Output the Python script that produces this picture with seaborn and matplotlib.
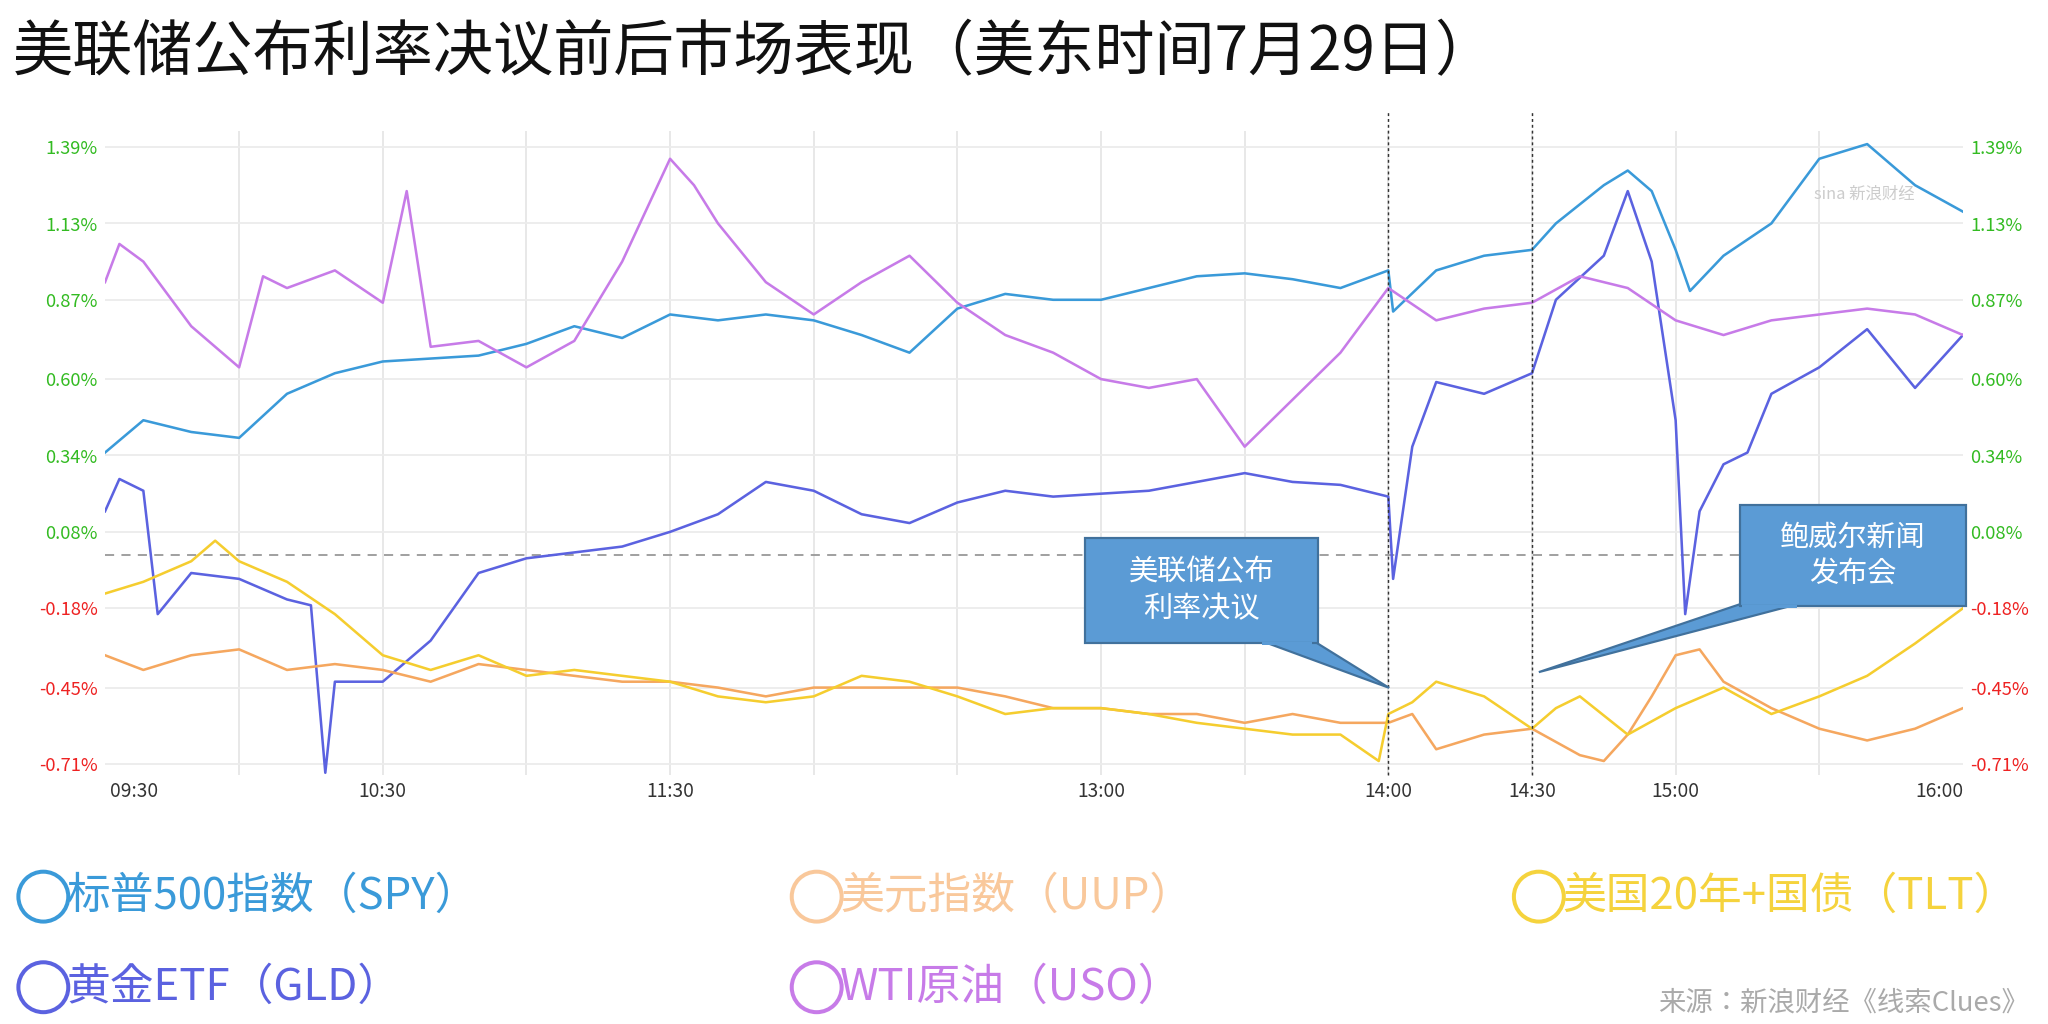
import matplotlib
matplotlib.use("Agg")
import matplotlib.pyplot as plt
import seaborn as sns
import pandas as pd
from matplotlib.patches import Polygon, Ellipse

plt.rcParams["font.family"] = ["Noto Sans CJK JP", "Noto Sans CJK SC", "DejaVu Sans"]

spy_t = ["09:32","09:40","09:50","10:00","10:10","10:20","10:30","10:40","10:50","11:00","11:10","11:20","11:30","11:40","11:50","12:00","12:10","12:20","12:30","12:40","12:50","13:00","13:10","13:20","13:30","13:40","13:50","14:00","14:01","14:10","14:20","14:30","14:35","14:45","14:50","14:55","15:00","15:03","15:10","15:20","15:30","15:40","15:50","16:00"]
spy_v = [0.35,0.46,0.42,0.40,0.55,0.62,0.66,0.67,0.68,0.72,0.78,0.74,0.82,0.80,0.82,0.80,0.75,0.69,0.84,0.89,0.87,0.87,0.91,0.95,0.96,0.94,0.91,0.97,0.83,0.97,1.02,1.04,1.13,1.26,1.31,1.24,1.04,0.90,1.02,1.13,1.35,1.40,1.26,1.17]

gld_t = ["09:32","09:35","09:40","09:43","09:50","10:00","10:10","10:15","10:18","10:20","10:30","10:40","10:50","11:00","11:10","11:20","11:30","11:40","11:50","12:00","12:10","12:20","12:30","12:40","12:50","13:00","13:10","13:20","13:30","13:40","13:50","14:00","14:01","14:05","14:10","14:20","14:30","14:35","14:45","14:50","14:55","15:00","15:02","15:05","15:10","15:15","15:20","15:30","15:40","15:50","16:00"]
gld_v = [0.15,0.26,0.22,-0.20,-0.06,-0.08,-0.15,-0.17,-0.74,-0.43,-0.43,-0.29,-0.06,-0.01,0.01,0.03,0.08,0.14,0.25,0.22,0.14,0.11,0.18,0.22,0.20,0.21,0.22,0.25,0.28,0.25,0.24,0.20,-0.08,0.37,0.59,0.55,0.62,0.87,1.02,1.24,1.00,0.46,-0.20,0.15,0.31,0.35,0.55,0.64,0.77,0.57,0.75]

uso_t = ["09:32","09:35","09:40","09:50","10:00","10:05","10:10","10:20","10:30","10:35","10:40","10:50","11:00","11:10","11:20","11:30","11:35","11:40","11:50","12:00","12:10","12:20","12:30","12:40","12:50","13:00","13:10","13:20","13:30","13:40","13:50","14:00","14:10","14:20","14:30","14:40","14:50","15:00","15:10","15:20","15:30","15:40","15:50","16:00"]
uso_v = [0.93,1.06,1.00,0.78,0.64,0.95,0.91,0.97,0.86,1.24,0.71,0.73,0.64,0.73,1.00,1.35,1.26,1.13,0.93,0.82,0.93,1.02,0.86,0.75,0.69,0.60,0.57,0.60,0.37,0.53,0.69,0.91,0.80,0.84,0.86,0.95,0.91,0.80,0.75,0.80,0.82,0.84,0.82,0.75]

uup_t = ["09:32","09:40","09:50","10:00","10:10","10:20","10:30","10:40","10:50","11:00","11:10","11:20","11:30","11:40","11:50","12:00","12:10","12:20","12:30","12:40","12:50","13:00","13:10","13:20","13:30","13:40","13:50","14:00","14:05","14:10","14:20","14:30","14:40","14:45","14:50","14:55","15:00","15:05","15:10","15:20","15:30","15:40","15:50","16:00"]
uup_v = [-0.34,-0.39,-0.34,-0.32,-0.39,-0.37,-0.39,-0.43,-0.37,-0.39,-0.41,-0.43,-0.43,-0.45,-0.48,-0.45,-0.45,-0.45,-0.45,-0.48,-0.52,-0.52,-0.54,-0.54,-0.57,-0.54,-0.57,-0.57,-0.54,-0.66,-0.61,-0.59,-0.68,-0.70,-0.61,-0.48,-0.34,-0.32,-0.43,-0.52,-0.59,-0.63,-0.59,-0.52]

tlt_t = ["09:32","09:40","09:50","09:55","10:00","10:10","10:20","10:30","10:40","10:50","11:00","11:10","11:20","11:30","11:40","11:50","12:00","12:10","12:20","12:30","12:40","12:50","13:00","13:10","13:20","13:30","13:40","13:50","13:58","14:00","14:05","14:10","14:20","14:30","14:35","14:40","14:50","15:00","15:10","15:20","15:30","15:40","15:50","16:00"]
tlt_v = [-0.13,-0.09,-0.02,0.05,-0.02,-0.09,-0.20,-0.34,-0.39,-0.34,-0.41,-0.39,-0.41,-0.43,-0.48,-0.50,-0.48,-0.41,-0.43,-0.48,-0.54,-0.52,-0.52,-0.54,-0.57,-0.59,-0.61,-0.61,-0.70,-0.54,-0.50,-0.43,-0.48,-0.59,-0.52,-0.48,-0.61,-0.52,-0.45,-0.54,-0.48,-0.41,-0.30,-0.18]

yticks = [1.39,1.13,0.87,0.60,0.34,0.08,-0.18,-0.45,-0.71]
xtick_labels = ["09:30","10:30","11:30","13:00","14:00","14:30","15:00","16:00"]

def mins(s):
    h, m = s.split(":")
    return int(h)*60+int(m)

series = [("SPY", spy_t, spy_v, "#3a9ad9"), ("GLD", gld_t, gld_v, "#5b62e0"),
          ("USO", uso_t, uso_v, "#c77be8"), ("UUP", uup_t, uup_v, "#f5a75f"),
          ("TLT", tlt_t, tlt_v, "#f5cd2f")]

fig = plt.figure(figsize=(15.6, 7.8), dpi=131.3)
ax = fig.add_axes([80/1560, 1-590/780, 1415/1560, 490/780])
for name, t, v, c in series:
    df = pd.DataFrame({"t": [mins(x) for x in t], "v": v})
    sns.lineplot(data=df, x="t", y="v", ax=ax, color=c, lw=1.4)

ax.set_xlim(572, 960)
ax.set_ylim(-0.746, 1.444)
ax.set_xlabel(""); ax.set_ylabel("")
for s in ax.spines.values():
    s.set_visible(False)
for m in range(600, 960, 30):
    ax.axvline(m, color="#e6e6e6", lw=1, zorder=0)
for y in yticks:
    ax.axhline(y, color="#ececec", lw=1, zorder=0)
ax.axhline(0, color="#999999", lw=1, ls=(0, (5, 4)), zorder=1)
ax.axvline(840, color="#333333", lw=0.8, ls=(0, (2, 2)), ymax=1.03, clip_on=False)
ax.axvline(870, color="#333333", lw=0.8, ls=(0, (2, 2)), ymax=1.03, clip_on=False)

ax.set_yticks(yticks)
ax.set_yticklabels([f"{y:.2f}%" for y in yticks])
ax.tick_params(axis="y", length=0, labelsize=10, labelright=True, pad=4)
for tk, y in zip(ax.yaxis.get_major_ticks(), yticks):
    col = "#33bb22" if y > 0 else "#ee2222"
    tk.label1.set_color(col)
    tk.label2.set_color(col)
xt = [578] + [mins(x) for x in xtick_labels[1:-1]] + [955]
ax.set_xticks(xt)
ax.set_xticklabels(xtick_labels)
ax.tick_params(axis="x", length=0, labelsize=10.5, colors="#333333")

fig.text(10/1560, 1-40/780, "美联储公布利率决议前后市场表现（美东时间7月29日）", fontsize=33, va="center", color="#111111")
fig.text(1420/1560, 1-148/780, "sina 新浪财经", fontsize=9, color="#cccccc", ha="center", va="center", style="italic")

def fx(x): return x/1560
def fy(y): return 1-y/780
def callout(box, base, tip, text):
    x0, y0, x1, y1 = box
    fig.patches.append(Polygon([(fx(tip[0]), fy(tip[1])), (fx(base[0]), fy(y1-2)), (fx(base[1]), fy(y1-2))],
                               closed=True, transform=fig.transFigure, fc="#5b9bd5", ec="#41719c", lw=1.2))
    fig.patches.append(Polygon([(fx(x0), fy(y0)), (fx(x1), fy(y0)), (fx(x1), fy(y1)), (fx(x0), fy(y1))],
                               closed=True, transform=fig.transFigure, fc="#5b9bd5", ec="#41719c", lw=1.2))
    fig.patches.append(Polygon([(fx(base[0]+1), fy(y1-1)), (fx(base[1]-1), fy(y1-1)), (fx(base[1]-1), fy(y1+1)), (fx(base[0]+1), fy(y1+1))],
                               closed=True, transform=fig.transFigure, fc="#5b9bd5", ec="none"))
    cx = (x0+x1)/2
    fig.text(fx(cx), fy((y0+y1)/2), text, ha="center", va="center", fontsize=16, color="white", linespacing=1.3)

callout((826, 410, 1004, 490), (960, 1000), (1058, 524), "美联储公布\n利率决议")
callout((1325, 385, 1497, 462), (1326, 1370), (1172, 512), "鲍威尔新闻\n发布会")

legend = [("标普500指数（SPY）", "#3a9ad9", 33, 683), ("美元指数（UUP）", "#f9c89b", 622, 683),
          ("美国20年+国债（TLT）", "#f5d33d", 1172, 683), ("黄金ETF（GLD）", "#5b62e0", 33, 752),
          ("WTI原油（USO）", "#c77be8", 622, 752)]
for txt, c, x, y in legend:
    fig.patches.append(Ellipse((fx(x), fy(y)), 38/1560, 38/780, transform=fig.transFigure, fc="none", ec=c, lw=2.2))
    fig.text(fx(x+18), fy(y), txt, color=c, fontsize=24, va="center")
fig.text(fx(1545), fy(764), "来源：新浪财经《线索Clues》", ha="right", va="center", fontsize=15, color="#aaaaaa")

fig.savefig("out.png", dpi=131.3)
